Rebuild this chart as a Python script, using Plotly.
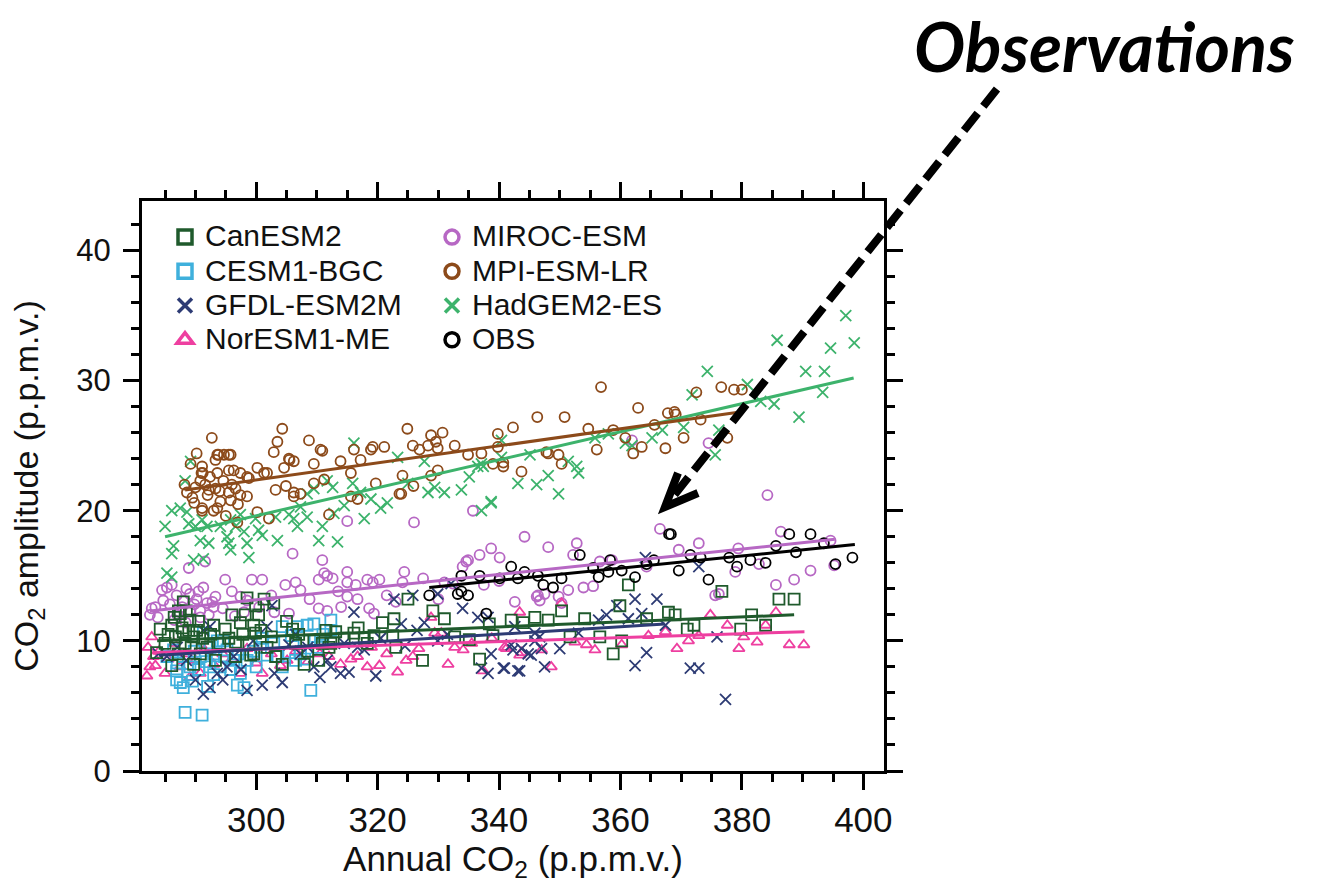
import plotly.graph_objects as go

# ---------------- data ----------------
canesm2_x = [284.2,283.6,286.1,287.5,288.0,287.2,289.1,288.9,289.7,288.3,287.2,286.1,289.7,290.8,291.9,293.3,288.0,286.7,
             294.9,296.0,297.4,298.5,299.6,299.9,301.3,299.9,300.4,296.6,296.6,299.1,299.6,302.9,303.2,304.3,306.0,306.5,
             307.9,310.3,309.5,310.9,312.3,312.0,313.1,316.1,318.3,319.4,320.8,322.7,322.5,323.0,325.0,327.4,329.1,331.0,
             332.7,335.1,336.8,338.4,339.0,342.0,344.0,345.9,348.1,350.3,354.1,351.7,356.6,358.8,359.9,360.2,361.3,364.3,
             367.9,369.0,371.0,372.1,376.7,379.8,381.6,383.9,386.1,388.6,
             285.0,285.5,286.5,287.8,288.5,289.3,290.2,290.5,291.2,292.5,293.0,294.0,295.5,297.8,298.2,298.8,300.8,301.8,
             302.5,305.0,307.0,308.5,311.5,314.5,316.8,317.8]
canesm2_y = [10.9,9.1,11.2,12.1,13.0,12.3,11.6,10.8,10.3,9.8,9.0,8.1,8.2,9.0,9.5,8.5,10.7,10.3,
             10.9,12.0,11.4,13.3,11.2,10.6,13.2,12.7,12.0,9.9,8.8,8.9,9.0,12.9,8.8,8.2,10.9,9.8,
             8.2,8.5,10.0,9.8,9.8,9.5,10.7,10.6,9.8,10.4,11.4,11.7,10.4,9.5,13.2,8.5,12.3,11.7,
             10.3,10.1,8.6,11.3,10.4,11.6,11.4,11.8,11.6,12.3,11.7,10.3,10.3,9.0,12.7,10.0,14.3,11.7,
             12.2,12.0,10.9,11.2,13.8,10.9,12.0,11.2,13.2,13.2,
             9.8,10.5,11.8,11.0,12.3,9.5,10.8,11.5,10.2,10.5,11.2,9.8,10.2,10.5,12.0,9.8,10.8,9.5,
             10.3,11.5,10.5,9.2,10.8,10.2,11.0,10.2]

cesm1_x = [287.5,288.3,291.1,286.9,289.1,288.0,290.8,292.4,293.6,295.2,292.4,294.1,296.3,296.9,298.0,297.4,300.7,301.8,
           302.9,304.3,305.4,306.8,308.4,304.3,309.0,309.5,312.3,312.3,310.6,307.9,307.3,310.1,285.3,286.4,291.3,293.0,
           294.6,286.9,288.0,
           287.0,288.8,289.8,290.5,291.8,293.0,294.8,295.8,297.0,298.5,299.5,300.0,301.0,303.5,305.8,306.5,308.0,311.0,
           289.5,292.0]
cesm1_y = [6.8,4.5,4.3,7.7,8.0,8.8,8.8,9.5,10.0,9.3,8.0,8.0,8.5,6.6,6.4,7.5,9.5,8.9,
           9.8,11.1,9.1,11.1,11.2,8.0,6.2,11.3,11.6,10.8,10.0,10.0,9.0,9.5,8.8,9.3,10.6,9.0,
           10.0,7.0,6.4,
           8.3,7.4,9.2,7.8,8.4,7.4,8.8,7.8,9.0,8.5,9.2,8.0,10.2,8.8,10.4,8.5,8.6,10.5,
           6.9,6.5]

gfdl_x = [283.9,285.3,291.3,292.4,291.3,292.4,293.6,295.2,296.3,298.5,301.0,304.3,301.8,302.6,305.4,307.3,309.5,311.7,
          312.3,313.9,315.3,316.7,317.8,316.1,319.7,322.7,323.9,325.8,327.7,329.9,329.9,332.1,336.5,338.2,337.1,338.2,
          340.7,343.1,338.7,342.3,344.8,345.9,347.5,340.9,343.4,342.0,343.7,345.3,347.0,342.6,345.9,346.7,350.0,353.1,
          356.4,357.7,359.4,361.3,362.4,363.5,366.0,362.4,364.3,367.4,364.1,372.9,371.5,372.9,375.9,377.3,
          287.0,288.5,290.0,294.5,297.5,299.5,303.0,306.5,308.5,310.5,314.5,320.5,324.5,326.5,331.5,334.0]
gfdl_y = [9.0,8.8,10.8,11.1,5.9,6.4,7.5,8.0,8.8,6.2,6.6,6.8,11.1,12.7,9.7,9.0,8.0,8.5,
          8.0,7.5,7.6,9.5,9.3,12.2,7.3,13.2,11.3,13.5,11.4,13.6,10.0,14.4,11.8,11.8,7.9,7.5,
          7.9,7.7,9.0,9.3,9.0,10.0,8.0,7.9,7.7,9.7,9.4,8.9,9.4,11.1,10.6,10.3,9.4,10.6,
          11.6,12.0,12.7,11.7,13.2,12.1,13.2,8.1,9.1,11.2,16.4,15.7,7.9,7.9,10.3,5.5,
          9.5,8.5,7.0,7.0,7.8,10.0,7.5,10.5,9.5,7.2,9.8,10.2,9.6,10.8,10.5,12.5]

noresm_x = [282.0,282.5,283.1,282.2,282.8,283.4,285.0,289.1,290.8,297.4,301.0,304.0,305.1,313.9,315.6,316.7,318.3,320.3,
            323.3,324.7,325.8,328.8,329.4,330.5,331.6,332.7,334.1,337.4,340.9,343.4,343.7,347.0,341.2,343.4,348.6,350.3,
            352.5,354.4,355.8,360.2,364.6,367.4,369.3,371.2,372.9,374.8,377.6,379.5,380.3,382.5,383.9,385.6,387.8,390.2,
            284.0,285.5,286.5,287.5,288.5,290.0,291.5,293.0,294.5,296.0,298.5,300.0,302.5,306.5,308.5,310.5,312.0,319.0,
            321.5,326.8,335.5,338.8]
noresm_y = [7.3,8.0,8.8,9.5,10.3,8.1,7.5,7.2,7.5,7.5,7.5,8.1,8.5,8.2,8.6,8.8,8.0,8.1,
            7.6,8.5,8.8,11.8,10.6,10.6,8.2,9.5,9.3,7.7,9.5,12.2,9.1,9.3,9.4,8.9,8.0,12.9,
            9.9,9.7,9.3,9.7,10.4,10.7,9.4,10.0,10.4,12.0,11.2,9.4,10.3,9.9,11.2,12.2,9.7,9.7,
            9.2,8.6,9.8,8.0,9.0,8.5,9.3,8.2,9.0,8.6,9.4,8.3,9.0,9.2,8.4,9.0,8.8,9.5,
            9.0,9.4,9.8,10.2]

miroc_x = [284.5,285.3,286.1,282.8,282.5,283.4,284.7,286.9,288.0,289.1,290.2,290.8,291.9,292.2,289.1,287.8,291.3,293.3,
           293.0,290.8,288.9,291.6,294.9,299.3,301.0,297.4,298.5,306.0,304.8,306.5,307.3,305.4,310.9,310.3,311.7,312.6,
           310.3,311.7,315.0,315.0,316.4,315.0,316.7,318.3,319.2,320.3,318.6,319.4,324.4,324.1,326.0,331.0,332.4,334.6,
           336.8,338.7,340.1,334.0,334.9,342.6,344.2,346.2,347.5,348.1,335.7,315.0,311.2,352.8,352.2,346.7,346.4,349.8,
           351.4,353.9,355.5,350.3,356.6,358.6,364.3,366.5,369.6,372.9,375.6,376.2,378.9,379.4,382.8,385.6,386.4,388.6,
           391.3,395.2,394.6,361.9,374.5,384.2,
           285.8,287.0,288.5,289.8,290.5,292.8,286.5,288.4,283.8,294.5,296.0,300.5,302.5,303.0,308.8,313.5,314.0,321.5,
           323.0,327.5,330.0,337.5,340.0,298.0,296.5]
miroc_y = [13.9,14.1,14.3,12.5,12.0,12.6,13.1,13.5,13.1,13.6,13.2,12.3,12.9,12.0,12.3,12.6,14.1,13.4,
           12.6,11.8,15.6,16.1,14.7,14.7,14.7,13.4,13.1,16.7,14.3,14.5,13.9,12.1,16.2,14.7,15.0,14.8,
           12.5,12.3,15.3,14.5,14.3,13.4,13.2,14.7,14.5,14.7,12.5,12.1,15.3,14.5,19.1,14.5,14.4,16.1,
           16.6,17.1,16.4,15.7,16.2,13.0,18.0,13.4,13.6,17.2,20.0,19.2,15.2,17.5,16.6,13.1,13.5,13.4,
           13.9,14.1,14.2,12.9,16.1,16.2,15.7,18.6,17.0,17.5,13.5,13.6,15.3,17.1,15.9,14.3,18.4,14.7,
           15.4,15.8,17.7,25.4,25.2,21.2,
           12.8,12.0,14.0,12.8,13.8,13.0,11.6,11.4,11.8,12.5,13.8,12.6,13.5,12.2,13.2,13.8,12.6,13.5,
           13.0,14.8,13.2,14.3,14.6,12.2,11.9]

mpi_x = [288.6,289.2,290.2,292.7,291.1,291.2,293.3,293.8,294.7,295.5,292.4,291.1,293.6,295.5,296.9,298.5,300.2,300.2,
         301.8,298.8,302.9,303.5,304.3,302.1,303.2,304.9,305.5,304.6,306.2,308.7,309.5,310.6,310.9,311.2,312.0,313.9,
         315.6,316.1,317.2,315.6,316.7,318.9,319.7,321.1,323.9,324.1,324.9,325.8,326.9,325.9,328.3,328.8,329.6,330.7,
         328.8,329.9,329.9,332.7,334.9,337.1,339.0,339.8,339.8,340.7,340.7,342.3,343.7,346.3,347.8,348.1,349.8,350.3,
         350.8,354.7,356.1,356.8,358.8,360.8,362.1,363.5,362.9,365.6,367.4,367.8,368.9,369.1,370.4,372.5,373.2,376.6,
         377.6,378.7,380.0,
         291.0,290.8,291.6,292.2,293.3,293.6,294.6,295.5,296.6,297.4,295.8,294.1,293.0,291.1,296.3,297.4,301.3,293.6,
         295.8,298.5,305.4,306.2,309.5,306.2,307.3,319.2,323.6,288.2,289.5,290.0,292.0,294.0,296.0,297.0,289.8,295.0]
mpi_y = [21.4,23.6,24.4,25.6,23.4,22.9,23.9,24.3,24.3,24.3,22.6,20.2,20.2,23.1,19.1,21.1,19.9,23.3,
         22.9,22.5,24.5,25.3,26.3,19.4,21.6,21.9,23.9,23.3,21.1,25.4,23.6,24.7,24.6,22.4,19.7,23.8,
         22.9,24.7,23.9,21.1,20.9,24.7,22.1,24.9,21.3,22.7,26.3,25.0,24.7,21.9,25.0,25.8,25.3,26.0,
         22.7,23.1,24.8,25.0,24.3,24.4,23.6,25.9,24.9,23.7,23.4,26.4,23.0,27.2,24.5,24.4,24.3,23.6,
         27.2,26.3,24.7,29.5,26.2,25.6,24.4,24.9,27.9,26.6,24.8,27.5,27.6,27.4,25.6,29.1,27.0,29.5,
         25.6,29.3,29.3,
         22.9,22.3,22.0,21.6,21.7,22.9,22.3,21.4,21.7,21.2,20.8,20.7,20.0,20.0,23.1,22.9,22.9,24.3,
         24.3,22.6,24.0,23.8,22.1,21.4,21.3,24.9,21.3,22.0,21.0,21.8,21.2,21.5,22.0,20.5,20.6,19.6]

hadgem_x = [286.1,287.5,288.6,285.0,286.4,286.1,288.3,289.2,288.9,290.0,291.1,291.9,289.7,291.3,290.8,292.2,294.1,295.2,
            295.5,295.8,296.6,298.0,298.5,298.8,297.4,295.8,299.9,300.4,301.0,303.5,303.2,305.4,306.2,306.8,307.3,308.4,
            308.4,310.3,313.4,310.9,309.5,311.7,312.6,312.8,314.5,316.1,315.9,317.2,317.8,318.9,320.5,321.6,323.3,325.0,
            327.7,328.3,329.4,331.0,333.8,335.1,337.1,338.7,337.1,336.5,337.4,338.7,340.4,340.4,343.1,346.2,348.1,349.8,
            345.1,351.4,352.8,353.1,355.8,358.0,360.8,361.9,365.2,366.9,370.4,371.8,374.3,375.6,376.2,380.9,383.1,385.3,
            385.8,389.4,390.5,393.6,393.3,394.6,397.1,398.5,285.3,286.1]
hadgem_y = [20.0,20.2,19.9,18.8,17.3,16.7,22.3,23.8,19.0,18.8,19.3,18.8,16.2,16.3,17.7,17.5,18.8,18.0,
            17.5,17.0,18.8,18.4,17.5,16.4,19.7,19.3,19.4,18.5,18.1,17.7,19.5,19.7,19.4,18.8,20.3,21.3,
            19.5,17.7,17.6,18.8,21.7,22.3,21.8,19.8,20.4,25.2,22.1,21.4,19.4,20.9,20.2,20.6,24.1,22.1,
            23.8,21.4,21.8,21.4,21.6,22.6,23.6,20.7,20.0,23.4,23.4,20.6,25.4,24.1,22.1,22.0,22.7,21.3,
            24.3,23.8,23.4,22.9,25.6,25.9,25.2,25.0,25.6,26.2,26.4,28.9,30.7,24.3,26.2,29.7,28.4,28.2,
            33.1,27.2,30.7,30.7,29.1,32.5,35.0,32.9,15.2,14.9]

obs_x = [328.5,333.8,333.2,333.8,334.9,336.8,337.9,340.1,342.0,343.1,344.2,346.4,347.3,348.9,350.3,353.3,355.5,356.4,
         358.0,358.3,360.2,362.4,364.3,365.5,368.0,368.3,369.6,371.5,373.2,374.5,377.9,379.2,381.4,383.9,385.6,387.8,
         388.9,391.3,393.5,395.4,398.2]
obs_y = [13.5,15.0,13.6,13.8,13.5,15.0,12.1,14.8,15.7,14.8,15.3,15.0,14.3,14.1,14.8,16.6,15.6,14.9,
         15.3,16.2,15.4,14.9,15.9,16.2,18.2,18.2,15.4,16.6,16.4,14.7,16.4,15.7,16.2,16.0,17.3,18.2,
         16.8,18.2,17.5,15.9,16.4]

# regression lines (end points)
fit_mpi_x, fit_mpi_y = [288.3, 380.0], [21.6, 27.6]
fit_hadgem_x, fit_hadgem_y = [285.0, 398.4], [18.0, 30.2]
fit_miroc_x, fit_miroc_y = [282.5, 395.3], [12.3, 17.8]
fit_obs_x, fit_obs_y = [328.5, 398.6], [14.1, 17.4]
fit_canesm2_x, fit_canesm2_y = [283.7, 388.6], [10.0, 12.0]
fit_gfdl_x, fit_gfdl_y = [284.0, 367.3], [8.9, 11.3]
fit_noresm_x, fit_noresm_y = [283.0, 390.3], [9.1, 10.7]

x_ticks = [300, 320, 340, 360, 380, 400]
y_ticks = [0, 10, 20, 30, 40]

# ---------------- styles ----------------
C_CAN = "#1f5a2c"
C_CES = "#3fb0dc"
C_GFD = "#2d3b74"
C_NOR = "#ee3fa0"
C_MIR = "#b768c4"
C_MPI = "#8c4a1a"
C_HAD = "#3db36c"
C_OBS = "#000000"

FONT = "Liberation Sans, Arial, sans-serif"

series = [
    # name, x, y, symbol, color, size
    ("MIROC-ESM", miroc_x, miroc_y, "circle-open", C_MIR, 10),
    ("NorESM1-ME", noresm_x, noresm_y, "triangle-up-open", C_NOR, 10),
    ("CESM1-BGC", cesm1_x, cesm1_y, "square-open", C_CES, 11),
    ("GFDL-ESM2M", gfdl_x, gfdl_y, "x-thin-open", C_GFD, 11),
    ("CanESM2", canesm2_x, canesm2_y, "square-open", C_CAN, 11),
    ("HadGEM2-ES", hadgem_x, hadgem_y, "x-thin-open", C_HAD, 11),
    ("MPI-ESM-LR", mpi_x, mpi_y, "circle-open", C_MPI, 10),
    ("OBS", obs_x, obs_y, "circle-open", C_OBS, 10),
]

fig = go.Figure()
for name, xs, ys, sym, col, sz in series:
    fig.add_trace(go.Scatter(
        x=xs, y=ys, mode="markers", name=name, showlegend=False,
        marker=dict(symbol=sym, size=sz, color=col, line=dict(color=col, width=1.8)),
    ))

fits = [
    (fit_noresm_x, fit_noresm_y, C_NOR),
    (fit_gfdl_x, fit_gfdl_y, C_GFD),
    (fit_canesm2_x, fit_canesm2_y, C_CAN),
    (fit_miroc_x, fit_miroc_y, C_MIR),
    (fit_obs_x, fit_obs_y, C_OBS),
    (fit_hadgem_x, fit_hadgem_y, C_HAD),
    (fit_mpi_x, fit_mpi_y, C_MPI),
]
for fx, fy, col in fits:
    fig.add_trace(go.Scatter(x=fx, y=fy, mode="lines", showlegend=False,
                             line=dict(color=col, width=3), hoverinfo="skip"))

# legend-only entries (bigger, bolder symbols as in the original legend)
legend_order = [
    ("CanESM2", "square-open", C_CAN, "legend"),
    ("CESM1-BGC", "square-open", C_CES, "legend"),
    ("GFDL-ESM2M", "x-thin-open", C_GFD, "legend"),
    ("NorESM1-ME", "triangle-up-open", C_NOR, "legend"),
    ("MIROC-ESM", "circle-open", C_MIR, "legend2"),
    ("MPI-ESM-LR", "circle-open", C_MPI, "legend2"),
    ("HadGEM2-ES", "x-thin-open", C_HAD, "legend2"),
    ("OBS", "circle-open", C_OBS, "legend2"),
]
for name, sym, col, lg in legend_order:
    fig.add_trace(go.Scatter(
        x=[None], y=[None], mode="markers", legend=lg,
        name='<span style="font-size:30px">' + name + "</span>",
        marker=dict(symbol=sym, size=14, color=col, line=dict(color=col, width=3.5)),
    ))

L, R, T, B = 142, 438, 201, 122
W, H = 1322, 893
pw, ph = W - L - R, H - T - B


def px(X):
    return (X - L) / pw


def py(Y):
    return (H - B - Y) / ph


axis_common = dict(
    showline=True, linewidth=3, linecolor="black", mirror="ticks",
    ticks="outside", ticklen=16, tickwidth=3, tickcolor="black",
    showgrid=False, zeroline=False,
)

fig.update_layout(
    width=W, height=H,
    margin=dict(l=L, r=R, t=T, b=B, pad=0),
    paper_bgcolor="white", plot_bgcolor="white",
    font=dict(family=FONT, color="#111111"),
    xaxis=dict(
        range=[281.2, 403.4], tickvals=x_ticks,
        tickfont=dict(size=35, family=FONT, color="#111111"),
        minor=dict(dtick=5, tick0=0, ticks="outside", ticklen=8, tickwidth=3, tickcolor="black"),
        title=dict(text="Annual CO<sub>2</sub> (p.p.m.v.)", font=dict(size=35, family=FONT, color="#111111"),
                   standoff=8),
        **axis_common,
    ),
    yaxis=dict(
        range=[0, 43.8], tickvals=y_ticks,
        tickfont=dict(size=31, family=FONT, color="#111111"),
        ticklabelstandoff=6,
        minor=dict(dtick=2, tick0=0, ticks="outside", ticklen=8, tickwidth=3, tickcolor="black"),
        title=dict(text="CO<sub>2</sub> amplitude (p.p.m.v.)", font=dict(size=34, family=FONT, color="#111111"),
                   standoff=28),
        **axis_common,
    ),
    legend=dict(x=px(165), y=py(215), xanchor="left", yanchor="top", bgcolor="rgba(0,0,0,0)",
                font=dict(size=24, family=FONT, color="#111111"), traceorder="normal"),
    legend2=dict(x=px(432), y=py(215), xanchor="left", yanchor="top", bgcolor="rgba(0,0,0,0)",
                 font=dict(size=24, family=FONT, color="#111111"), traceorder="normal"),
    showlegend=True,
)

# dashed arrow pointing to the observations
fig.add_shape(type="line", xref="paper", yref="paper", layer="above",
              x0=px(997), y0=py(89), x1=px(668), y1=py(503),
              line=dict(color="black", width=8, dash="22px,9px"))
fig.add_shape(type="path", xref="paper", yref="paper", layer="above",
              path=f"M {px(698)},{py(493)} L {px(665)},{py(507)} L {px(678)},{py(473)}",
              line=dict(color="black", width=8))

fig.add_annotation(xref="paper", yref="paper", x=px(1104), y=py(45), xanchor="center", yanchor="middle",
                   text="<b><i>Observations</i></b>", showarrow=False, borderpad=0,
                   font=dict(size=68, family="Lato, Open Sans, sans-serif", color="black"))

fig.write_html("out.html")
